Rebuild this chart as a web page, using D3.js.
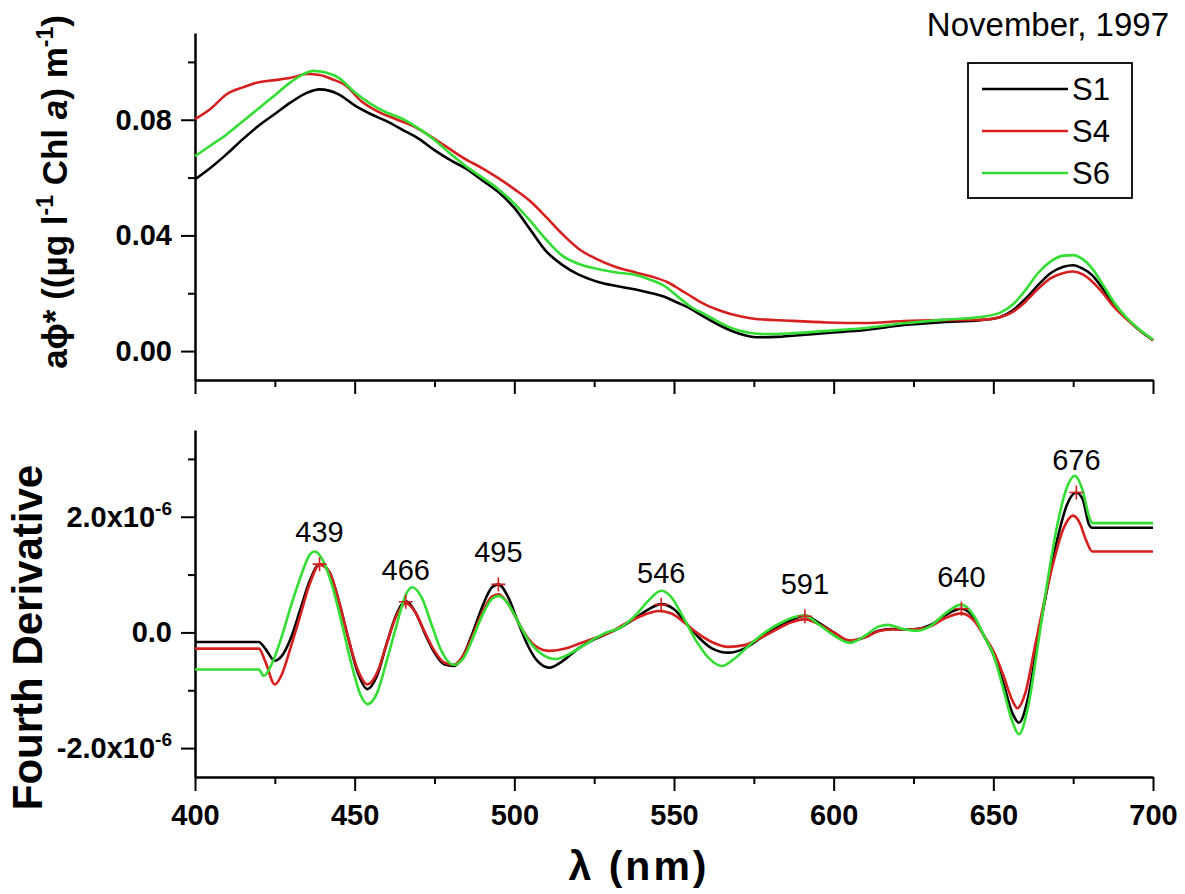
<!DOCTYPE html>
<html>
<head>
<meta charset="utf-8">
<script src="https://cdn.jsdelivr.net/npm/d3@7"></script>
<style>
  html, body { margin: 0; padding: 0; background: #fff; }
  svg { display: block; font-family: "Liberation Sans", Arial, Helvetica, sans-serif; }
</style>
</head>
<body>
<svg id="chart" width="1185" height="894"></svg>
<script>
// ---- Data -----------------------------------------------------------
const seriesNames  = ["S1", "S4", "S6"];
const seriesColors = ["#000000", "#d62020", "#33dd33"];

// Specific absorption aφ* ((µg l-1 Chl a) m-1), pairs of [wavelength nm, value]
const absS1 = [
  [400,0.0594],[405,0.0635],[410,0.0682],[415,0.0733],[420,0.0780],[425,0.0820],
  [430,0.0860],[435,0.0893],[439,0.0905],[445,0.0888],[450,0.0850],[455,0.0820],
  [460,0.0795],[465,0.0765],[470,0.0735],[475,0.0695],[480,0.0660],[485,0.0630],
  [490,0.0590],[495,0.0550],[500,0.0495],[505,0.0420],[510,0.0345],[515,0.0298],
  [520,0.0265],[526,0.0240],[532,0.0225],[538,0.0213],[543,0.0200],[547,0.0188],
  [551,0.0168],[555,0.0148],[560,0.0115],[565,0.0085],[570,0.0062],[576,0.0048],
  [582,0.0049],[588,0.0054],[598,0.0063],[610,0.0073],[622,0.0090],[634,0.0100],
  [646,0.0107],[652,0.0117],[656,0.0140],[660,0.0180],[664,0.0228],[668,0.0270],
  [672,0.0292],[675,0.0297],[678,0.0285],[681,0.0262],[684,0.0220],[688,0.0160],
  [692,0.0110],[696,0.0070],[700,0.0038]
];
const absS4 = [
  [400,0.0802],[405,0.0839],[410,0.0889],[415,0.0912],[420,0.0930],[425,0.0937],
  [430,0.0945],[435,0.0958],[439,0.0955],[443,0.0940],[447,0.0920],[452,0.0865],
  [457,0.0830],[463,0.0802],[468,0.0780],[473,0.0748],[478,0.0712],[484,0.0668],
  [490,0.0632],[495,0.0598],[500,0.0560],[505,0.0518],[510,0.0463],[515,0.0405],
  [520,0.0355],[526,0.0317],[532,0.0290],[538,0.0272],[543,0.0258],[548,0.0238],
  [552,0.0212],[556,0.0185],[560,0.0160],[565,0.0138],[570,0.0122],[575,0.0112],
  [586,0.0105],[598,0.0099],[610,0.0097],[622,0.0104],[634,0.0107],[646,0.0108],
  [652,0.0117],[656,0.0135],[660,0.0170],[664,0.0215],[668,0.0252],[672,0.0270],
  [675,0.0275],[678,0.0265],[681,0.0240],[684,0.0205],[688,0.0150],[692,0.0108],
  [696,0.0070],[700,0.0038]
];
const absS6 = [
  [400,0.0674],[405,0.0712],[410,0.0750],[415,0.0795],[420,0.0840],[425,0.0885],
  [430,0.0930],[434,0.0958],[437,0.0969],[441,0.0963],[445,0.0945],[450,0.0895],
  [455,0.0855],[460,0.0825],[465,0.0803],[470,0.0770],[475,0.0730],[480,0.0682],
  [485,0.0638],[490,0.0600],[495,0.0560],[500,0.0510],[505,0.0450],[510,0.0385],
  [515,0.0330],[520,0.0302],[526,0.0284],[532,0.0272],[538,0.0263],[543,0.0245],
  [547,0.0225],[551,0.0190],[555,0.0155],[560,0.0125],[565,0.0095],[570,0.0072],
  [578,0.0059],[586,0.0061],[598,0.0070],[610,0.0080],[622,0.0096],[634,0.0108],
  [646,0.0118],[652,0.0132],[656,0.0160],[660,0.0210],[664,0.0270],[668,0.0310],
  [672,0.0330],[675,0.0332],[678,0.0318],[681,0.0285],[684,0.0235],[688,0.0165],
  [692,0.0112],[696,0.0072],[700,0.0040]
];

// Fourth derivative of the spectra, values in units of 1e-6
const derivUnit = 1e-6;
const d4S1 = [
  [400,-0.165],[420,-0.165],[422,-0.28],[425,-0.49],[427,-0.42],[430,-0.10],
  [433,0.40],[436,0.90],[439,1.18],[442,1.05],[445,0.55],[448,-0.10],[451,-0.70],
  [454,-0.98],[457,-0.75],[460,-0.20],[463,0.30],[466,0.54],[469,0.35],[472,-0.02],
  [475,-0.35],[478,-0.55],[481,-0.58],[484,-0.40],[487,0.00],[490,0.45],[493,0.78],
  [495,0.83],[498,0.62],[501,0.20],[504,-0.20],[507,-0.48],[511,-0.61],[515,-0.50],
  [520,-0.28],[525,-0.12],[530,0.00],[534,0.11],[538,0.25],[542,0.40],[546,0.49],
  [550,0.40],[554,0.15],[558,-0.10],[562,-0.28],[567,-0.35],[572,-0.28],[577,-0.10],
  [582,0.08],[587,0.22],[591,0.29],[595,0.18],[600,0.00],[605,-0.15],[610,-0.08],
  [614,0.03],[618,0.06],[622,0.05],[626,0.06],[630,0.12],[635,0.30],[640,0.41],
  [644,0.25],[647,-0.05],[650,-0.38],[653,-0.85],[656,-1.40],[658,-1.56],[661,-1.10],
  [664,-0.10],[667,0.80],[670,1.60],[673,2.20],[676,2.42],[678,2.30],[680,1.86],
  [681,1.81],[700,1.81]
];
const d4S4 = [
  [400,-0.28],[420,-0.28],[422,-0.50],[425,-0.90],[427,-0.75],[430,-0.25],
  [433,0.30],[436,0.85],[439,1.17],[442,1.05],[445,0.55],[448,-0.10],[451,-0.65],
  [454,-0.90],[457,-0.70],[460,-0.20],[463,0.28],[466,0.50],[469,0.35],[472,0.00],
  [475,-0.32],[478,-0.52],[481,-0.56],[484,-0.40],[487,-0.05],[490,0.35],[493,0.62],
  [495,0.66],[498,0.50],[501,0.20],[504,-0.08],[507,-0.25],[511,-0.32],[516,-0.28],
  [520,-0.20],[524,-0.12],[530,0.00],[534,0.13],[538,0.24],[542,0.33],[545,0.37],
  [549,0.33],[553,0.18],[557,0.00],[562,-0.17],[567,-0.25],[572,-0.22],[577,-0.10],
  [582,0.05],[587,0.18],[591,0.23],[595,0.15],[600,0.00],[605,-0.14],[610,-0.08],
  [614,0.02],[618,0.05],[622,0.05],[626,0.06],[630,0.10],[635,0.25],[640,0.33],
  [644,0.20],[647,-0.05],[650,-0.32],[653,-0.72],[656,-1.18],[657.5,-1.31],[660,-1.05],
  [663,-0.25],[666,0.55],[669,1.25],[672,1.80],[675,2.02],[677,1.90],[679,1.60],
  [681,1.40],[700,1.40]
];
const d4S6 = [
  [400,-0.64],[420,-0.64],[421.5,-0.75],[424,-0.55],[427,-0.10],[430,0.45],
  [433,0.95],[436,1.35],[437.5,1.40],[440,1.25],[443,0.80],[446,0.15],[449,-0.55],
  [452,-1.10],[454,-1.24],[457,-1.05],[460,-0.50],[463,0.10],[466,0.65],[468,0.78],
  [471,0.60],[474,0.15],[477,-0.30],[481,-0.56],[484,-0.45],[487,-0.10],[490,0.30],
  [493,0.58],[495,0.63],[498,0.50],[501,0.20],[504,-0.10],[508,-0.35],[513,-0.46],
  [518,-0.35],[523,-0.18],[528,-0.02],[534,0.11],[538,0.30],[542,0.55],[546,0.72],
  [549,0.62],[553,0.25],[557,-0.15],[561,-0.45],[565,-0.58],[569,-0.45],[574,-0.20],
  [579,0.02],[584,0.18],[588,0.27],[591,0.29],[595,0.15],[600,-0.05],[605,-0.18],
  [610,-0.05],[614,0.10],[617,0.13],[621,0.07],[626,0.03],[630,0.10],[635,0.33],
  [640,0.48],[644,0.28],[647,-0.05],[650,-0.38],[653,-0.95],[656,-1.55],[658,-1.76],
  [661,-1.25],[664,-0.20],[667,0.90],[670,1.85],[673,2.50],[675.5,2.71],[678,2.45],
  [680,2.00],[681,1.89],[700,1.89]
];

// Identified fourth-derivative maxima: wavelength (nm) and S1 value (1e-6)
const peakWavelengths = [439, 466, 495, 546, 591, 640, 676];
const peakValues      = [1.18, 0.53, 0.83, 0.48, 0.28, 0.41, 2.42];

// Axis ticks
const xMajorTicks = [400, 450, 500, 550, 600, 650, 700];
const xMinorTicks = [425, 475, 525, 575, 625, 675];
const absMajorTicks = [0, 0.04, 0.08];
const absMinorTicks = [0.02, 0.06, 0.10];
const derivMajorTicks = [-2, 0, 2];
const derivMinorTicks = [-1, 1, 3];

// ---- Layout ---------------------------------------------------------
const svg = d3.select("#chart");
const plotLeft = 195, plotRight = 1153;
const topPanel = { top: 33, bottom: 380 };
const botPanel = { top: 430, bottom: 777 };

const x = d3.scaleLinear().domain([400, 700]).range([plotLeft, plotRight]);
const yAbs = d3.scaleLinear().domain([-0.01, 0.11]).range([topPanel.bottom, topPanel.top]);
const yDer = d3.scaleLinear().domain([-2.5 * derivUnit, 3.5 * derivUnit]).range([botPanel.bottom, botPanel.top]);

const tickFont = { size: 29, weight: "bold" };

function styleAxis(g, labelled) {
  g.select(".domain").attr("stroke", "#000").attr("stroke-width", 2.5);
  g.selectAll(".tick line").attr("stroke", "#000").attr("stroke-width", 2);
  g.attr("font-family", null).attr("font-size", null);
  g.selectAll(".tick text")
    .attr("fill", "#000")
    .attr("font-size", tickFont.size)
    .attr("font-weight", tickFont.weight);
  if (!labelled) g.selectAll(".tick text").remove();
}

function drawXAxis(panel, labelled) {
  const major = svg.append("g")
    .attr("transform", `translate(0,${panel.bottom})`)
    .call(d3.axisBottom(x).tickValues(xMajorTicks).tickSize(14).tickSizeOuter(0)
      .tickPadding(13).tickFormat(d3.format("d")));
  styleAxis(major, labelled);
  const minor = svg.append("g")
    .attr("transform", `translate(0,${panel.bottom})`)
    .call(d3.axisBottom(x).tickValues(xMinorTicks).tickSize(7).tickFormat(""));
  minor.select(".domain").remove();
  styleAxis(minor, false);
}

function drawYAxis(yScale, majors, minors, fmt) {
  const major = svg.append("g")
    .attr("transform", `translate(${plotLeft},0)`)
    .call(d3.axisLeft(yScale).tickValues(majors).tickSize(14).tickSizeOuter(0)
      .tickPadding(9).tickFormat(fmt));
  styleAxis(major, true);
  const minor = svg.append("g")
    .attr("transform", `translate(${plotLeft},0)`)
    .call(d3.axisLeft(yScale).tickValues(minors).tickSize(7).tickFormat(""));
  minor.select(".domain").remove();
  styleAxis(minor, false);
  return major;
}

// ---- Top panel: absorption spectra ----------------------------------
drawXAxis(topPanel, false);
drawYAxis(yAbs, absMajorTicks, absMinorTicks, d3.format(".2f"));

const lineAbs = d3.line()
  .x(d => x(d[0])).y(d => yAbs(d[1]))
  .curve(d3.curveMonotoneX);

[absS1, absS4, absS6].forEach((s, i) => {
  svg.append("path")
    .datum(s)
    .attr("fill", "none")
    .attr("stroke", seriesColors[i])
    .attr("stroke-width", 2.6)
    .attr("stroke-linejoin", "round")
    .attr("d", lineAbs);
});

// Date label
svg.append("text")
  .attr("x", 1169).attr("y", 36)
  .attr("text-anchor", "end")
  .attr("font-size", 33)
  .attr("fill", "#000")
  .text("November, 1997");

// Legend
const legend = svg.append("g");
legend.append("rect")
  .attr("x", 968).attr("y", 63).attr("width", 164).attr("height", 135)
  .attr("fill", "#fff").attr("stroke", "#000").attr("stroke-width", 1.8);
seriesNames.forEach((name, i) => {
  const ly = 89 + i * 42;
  legend.append("line")
    .attr("x1", 982).attr("x2", 1068).attr("y1", ly).attr("y2", ly)
    .attr("stroke", seriesColors[i]).attr("stroke-width", 2.6);
  legend.append("text")
    .attr("x", 1072).attr("y", ly + 11)
    .attr("font-size", 31).attr("fill", "#000")
    .text(name);
});

// Y title, top panel
const yTitleTop = svg.append("text")
  .attr("transform", `translate(67,192) rotate(-90)`)
  .attr("text-anchor", "middle")
  .attr("font-size", 35).attr("font-weight", "bold").attr("fill", "#000");
yTitleTop.append("tspan").text("a\u03D5* ((\u00B5g l");
yTitleTop.append("tspan").attr("dy", -14).attr("font-size", 23).text("-1");
yTitleTop.append("tspan").attr("dy", 14).text(" Chl ");
yTitleTop.append("tspan").attr("font-style", "italic").text("a");
yTitleTop.append("tspan").text(") m");
yTitleTop.append("tspan").attr("dy", -14).attr("font-size", 23).text("-1");
yTitleTop.append("tspan").attr("dy", 14).text(")");

// ---- Bottom panel: fourth derivative --------------------------------
drawXAxis(botPanel, true);
const derAxis = drawYAxis(yDer, derivMajorTicks.map(v => v * derivUnit),
  derivMinorTicks.map(v => v * derivUnit), d => "");
// Scientific tick labels with superscript exponent
derAxis.selectAll(".tick text").each(function (d) {
  const t = d3.select(this);
  const m = d / derivUnit;
  t.text(null);
  if (m === 0) { t.text("0.0"); return; }
  t.append("tspan").text(d3.format(".1f")(m).replace("\u2212", "-") + "x10");
  t.append("tspan").attr("dy", -12).attr("font-size", 19).text("-6");
});

const lineDer = d3.line()
  .x(d => x(d[0])).y(d => yDer(d[1] * derivUnit))
  .curve(d3.curveMonotoneX);

[d4S1, d4S4, d4S6].forEach((s, i) => {
  svg.append("path")
    .datum(s)
    .attr("fill", "none")
    .attr("stroke", seriesColors[i])
    .attr("stroke-width", 2.6)
    .attr("stroke-linejoin", "round")
    .attr("d", lineDer);
});

// Peak markers and labels
const peaks = peakWavelengths.map((w, i) => ({ w, v: peakValues[i] }));
const peakG = svg.append("g");
peakG.selectAll("path.mark")
  .data(peaks).join("path")
  .attr("class", "mark")
  .attr("transform", d => `translate(${x(d.w)},${yDer(d.v * derivUnit)})`)
  .attr("d", "M-7,0H7M0,-7V7")
  .attr("stroke", "#d62020").attr("stroke-width", 1.6).attr("fill", "none");
peakG.selectAll("text")
  .data(peaks).join("text")
  .attr("x", d => x(d.w))
  .attr("y", d => yDer(d.v * derivUnit) - 22)
  .attr("text-anchor", "middle")
  .attr("font-size", 29).attr("fill", "#000")
  .text(d => d.w);

// Y title, bottom panel
svg.append("text")
  .attr("transform", `translate(42,${(botPanel.top + botPanel.bottom) / 2 + 34}) rotate(-90)`)
  .attr("text-anchor", "middle")
  .attr("font-size", 42).attr("font-weight", "bold").attr("fill", "#000")
  .text("Fourth Derivative");

// X title
svg.append("text")
  .attr("x", 639).attr("y", 880)
  .attr("text-anchor", "middle")
  .attr("font-size", 41).attr("font-weight", "bold").attr("fill", "#000")
  .attr("letter-spacing", 3)
  .text("\u03BB (nm)");
</script>
</body>
</html>
